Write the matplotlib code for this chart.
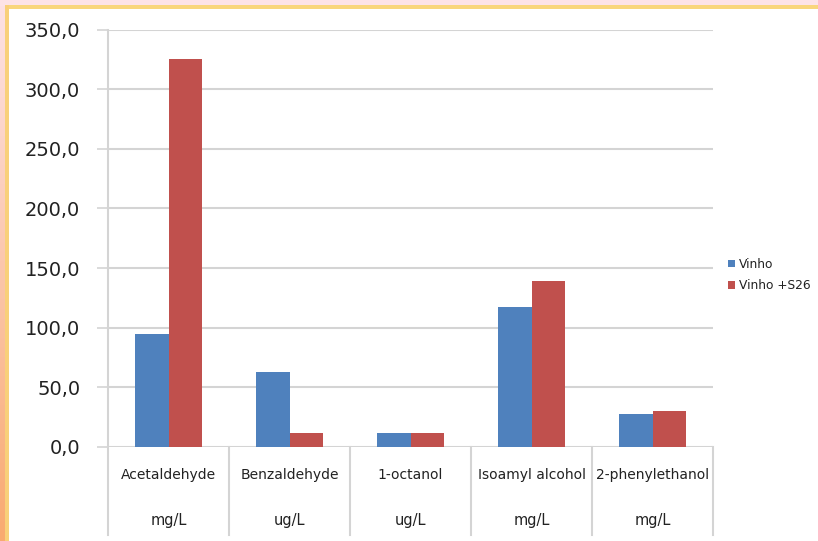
import numpy as np
import matplotlib
matplotlib.use('Agg')
import matplotlib.pyplot as plt
from matplotlib.patches import Rectangle
from matplotlib.transforms import blended_transform_factory

compounds = ['Acetaldehyde', 'Benzaldehyde', '1-octanol', 'Isoamyl alcohol', '2-phenylethanol']
units = ['mg/L', 'ug/L', 'ug/L', 'mg/L', 'mg/L']
vinho = [95.0, 62.5, 11.5, 117.5, 28.0]
vinho_s26 = [325.0, 11.5, 11.5, 139.5, 30.5]
series_names = ['Vinho', 'Vinho +S26']

BLUE = '#4F81BD'
RED = '#C0504D'
GRID = '#d4d4d4'
W, H = 818, 541

fig = plt.figure(figsize=(W / 100, H / 100), dpi=100)
fig.patch.set_facecolor('white')

# slide-style frame: pink/orange gradient strip on the left, pink on top, yellow rim
bg = fig.add_axes([0, 0, 1, 1], zorder=-5)
bg.set_xlim(0, W)
bg.set_ylim(H, 0)
bg.axis('off')
grad = np.linspace(0, 1, 256)[:, None]
pink = np.array([253, 226, 230]) / 255
orange = np.array([249, 170, 112]) / 255
strip = pink[None, None, :] * (1 - grad[..., None]) + orange[None, None, :] * grad[..., None]
bg.imshow(strip, extent=[0, 7, H, 0], aspect='auto', interpolation='bilinear')
bg.add_patch(Rectangle((0, 0), W, 6, color='#fde3e7', lw=0))
bg.add_patch(Rectangle((6, 5), W - 6, 4, color='#f9d67c', lw=0))
bg.add_patch(Rectangle((5, 5), 4, H - 5, color='#f9d07a', lw=0))
bg.add_patch(Rectangle((9, 9), W - 9, H - 9, color='white', lw=0))

left, right = 108 / W, 713 / W
top, bottom = 1 - 29.5 / H, 1 - 447 / H
ax = fig.add_axes([left, bottom, right - left, top - bottom])
ax.set_facecolor('none')

x = np.arange(len(compounds))
bw = 0.28
b1 = ax.bar(x - bw / 2, vinho, bw, color=BLUE, label=series_names[0], zorder=3)
b2 = ax.bar(x + bw / 2, vinho_s26, bw, color=RED, label=series_names[1], zorder=3)

ax.set_xlim(-0.5, len(compounds) - 0.5)
ax.set_ylim(0, 350)
ax.set_yticks(np.arange(0, 351, 50))
ax.set_yticklabels([f'{v:.1f}'.replace('.', ',') for v in np.arange(0, 351, 50)])
ax.yaxis.grid(True, color=GRID, lw=1.5, zorder=0)
ax.tick_params(axis='y', length=8, width=1.2, color=GRID, pad=12,
               labelsize=14, labelcolor='#222222')
ax.set_xticks([])
for s in ax.spines.values():
    s.set_visible(False)

# category boxes below the axis: vertical separators and two-line labels
ext = -(535 - 447) / (447 - 29.5)
tr = blended_transform_factory(ax.transData, ax.transAxes)
for xv in np.arange(-0.5, len(compounds), 1.0):
    ax.plot([xv, xv], [1 if xv == -0.5 else 0, ext], color=GRID, lw=1.5,
            transform=tr, clip_on=False, zorder=1)
for i, (name, unit) in enumerate(zip(compounds, units)):
    ax.text(i, -(475 - 447) / 417.5, name, transform=tr, ha='center', va='center',
            fontsize=10, color='#222222')
    ax.text(i, -(521 - 447) / 417.5, unit, transform=tr, ha='center', va='center',
            fontsize=10.5, color='#222222')

leg = fig.legend(handles=[b1, b2], loc='center left',
                 bbox_to_anchor=(722 / W, 1 - 275 / H), frameon=False,
                 fontsize=8.8, handlelength=0.6, handleheight=0.6,
                 handletextpad=0.3, labelspacing=0.7, borderpad=0)
for t in leg.get_texts():
    t.set_color('#222222')

fig.savefig('out.png', dpi=100)
